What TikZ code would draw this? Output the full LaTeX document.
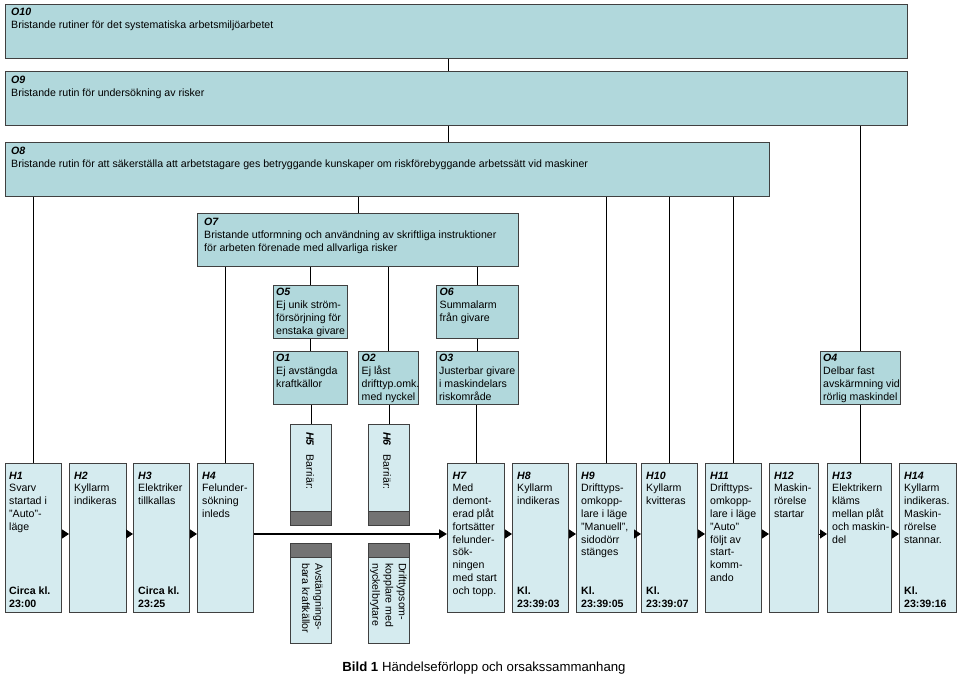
\documentclass[tikz,border=0pt]{standalone}
\usepackage{fontspec}
\setmainfont{Liberation Sans}
\usetikzlibrary{arrows.meta}
\definecolor{ofill}{HTML}{B1D8DC}
\definecolor{hfill}{HTML}{D5EBEF}
\definecolor{bdark}{HTML}{737373}
\definecolor{bord}{HTML}{404040}
\newcommand\ttl[1]{\textbf{\textit{#1}}}
\newcommand\mkbox[6]{\node[#6, anchor=north west, minimum width={(#4)-(#2)}, minimum height={(#5)-(#3)}] (#1) at (#2,#3) {};}
\begin{document}
\begin{tikzpicture}[x=1pt,y=-1pt,
 obox/.style={draw=bord, fill=ofill, line width=1.2pt, inner sep=0pt, rectangle},
 hbox/.style={draw=bord, fill=hfill, line width=1.2pt, inner sep=0pt, rectangle},
 dbox/.style={draw=bord, fill=bdark, line width=1.2pt, inner sep=0pt, rectangle},
 otxt/.style={inner sep=0pt, anchor=north west, align=left, font=\fontsize{10.6}{13}\selectfont},
 htxt/.style={inner sep=0pt, anchor=north west, align=left, font=\fontsize{10.6}{12.8}\selectfont},
 ttxt/.style={inner sep=0pt, anchor=south west, align=left, font=\fontsize{10.6}{12.8}\selectfont\bfseries},
 btxt/.style={inner sep=0pt, anchor=north west, align=left, rotate=-90, font=\fontsize{10.6}{13.3}\selectfont},
 conn/.style={draw=black, line width=0.9pt},
 sarr/.style={draw=black, line width=0.8pt, -{Triangle[length=7pt,width=9pt]}},
 larr/.style={draw=black, line width=2.2pt, -{Triangle[length=8pt,width=9pt]}},
]
\useasboundingbox (0,0) rectangle (959,677);
\fill[white] (0,0) rectangle (959,677);

% O boxes
\mkbox{o10}{5}{4}{907}{58}{obox}
\mkbox{o9}{5}{71}{907}{125}{obox}
\mkbox{o8}{5}{142}{769}{196}{obox}
\mkbox{o7}{197}{213}{518}{266}{obox}
\mkbox{o5}{273}{285}{347}{338}{obox}
\mkbox{o6}{436}{285}{518}{338}{obox}
\mkbox{o1}{273}{351}{347}{404}{obox}
\mkbox{o2}{358}{351}{418}{404}{obox}
\mkbox{o3}{436}{351}{518}{404}{obox}
\mkbox{o4}{820}{351}{900}{404}{obox}

\node[otxt] (t10) at ([shift={(6,2.5)}]o10.north west) {\strut\ttl{O10}\\Bristande rutiner för det systematiska arbetsmiljöarbetet};
\node[otxt] (t9) at ([shift={(6,3)}]o9.north west) {\strut\ttl{O9}\\Bristande rutin för undersökning av risker};
\node[otxt] (t8) at ([shift={(6,3)}]o8.north west) {\strut\ttl{O8}\\Bristande rutin för att säkerställa att arbetstagare ges betryggande kunskaper om riskförebyggande arbetssätt vid maskiner};
\node[otxt] (t7) at ([shift={(7,3.5)}]o7.north west) {\strut\ttl{O7}\\Bristande utformning och användning av skriftliga instruktioner\\för arbeten förenade med allvarliga risker};
\node[otxt] (t5) at ([shift={(3,1)}]o5.north west) {\strut\ttl{O5}\\Ej unik ström-\\försörjning för\\enstaka givare};
\node[otxt] (t6) at ([shift={(3.5,1)}]o6.north west) {\strut\ttl{O6}\\Summalarm\\från givare};
\node[otxt] (t1) at ([shift={(3,1)}]o1.north west) {\strut\ttl{O1}\\Ej avstängda\\kraftkällor};
\node[otxt] (t2) at ([shift={(3.5,1)}]o2.north west) {\strut\ttl{O2}\\Ej låst\\drifttyp.omk.\\med nyckel};
\node[otxt] (t3) at ([shift={(3,1)}]o3.north west) {\strut\ttl{O3}\\Justerbar givare\\i maskindelars\\riskområde};
\node[otxt] (t4) at ([shift={(3,1)}]o4.north west) {\strut\ttl{O4}\\Delbar fast\\avskärmning vid\\rörlig maskindel};

% H boxes
\mkbox{h1}{5}{463}{61}{612}{hbox}
\mkbox{h2}{69}{463}{126}{612}{hbox}
\mkbox{h3}{133}{463}{189}{612}{hbox}
\mkbox{h4}{197}{463}{253}{612}{hbox}
\mkbox{h7}{447}{463}{504}{612}{hbox}
\mkbox{h8}{512}{463}{568}{612}{hbox}
\mkbox{h9}{576}{463}{636}{612}{hbox}
\mkbox{h10}{641}{463}{697}{612}{hbox}
\mkbox{h11}{705}{463}{761}{612}{hbox}
\mkbox{h12}{769}{463}{818}{612}{hbox}
\mkbox{h13}{827}{463}{891}{612}{hbox}
\mkbox{h14}{899}{463}{956}{612}{hbox}

\node[htxt] (th1) at ([shift={(4,7)}]h1.north west) {\strut\ttl{H1}\\Svarv\\startad i\\”Auto”-\\läge};
\node[ttxt] (tb1) at ([shift={(4,-2)}]h1.south west) {Circa kl.\\23:00\strut};
\node[htxt] (th2) at ([shift={(5,7)}]h2.north west) {\strut\ttl{H2}\\Kyllarm\\indikeras};
\node[htxt] (th3) at ([shift={(5,7)}]h3.north west) {\strut\ttl{H3}\\Elektriker\\tillkallas};
\node[ttxt] (tb3) at ([shift={(5,-2)}]h3.south west) {Circa kl.\\23:25\strut};
\node[htxt] (th4) at ([shift={(5,7)}]h4.north west) {\strut\ttl{H4}\\Felunder-\\sökning\\inleds};
\node[htxt] (th7) at ([shift={(5.5,7)}]h7.north west) {\strut\ttl{H7}\\Med\\demont-\\erad plåt\\fortsätter\\felunder-\\sök-\\ningen\\med start\\och topp.};
\node[htxt] (th8) at ([shift={(5,7)}]h8.north west) {\strut\ttl{H8}\\Kyllarm\\indikeras};
\node[ttxt] (tb8) at ([shift={(5,-2)}]h8.south west) {Kl.\\23:39:03\strut};
\node[htxt] (th9) at ([shift={(5,7)}]h9.north west) {\strut\ttl{H9}\\Drifttyps-\\omkopp-\\lare i läge\\”Manuell”,\\sidodörr\\stänges};
\node[ttxt] (tb9) at ([shift={(5,-2)}]h9.south west) {Kl.\\23:39:05\strut};
\node[htxt] (th10) at ([shift={(5,7)}]h10.north west) {\strut\ttl{H10}\\Kyllarm\\kvitteras};
\node[ttxt] (tb10) at ([shift={(5,-2)}]h10.south west) {Kl.\\23:39:07\strut};
\node[htxt] (th11) at ([shift={(5,7)}]h11.north west) {\strut\ttl{H11}\\Drifttyps-\\omkopp-\\lare i läge\\”Auto”\\följt av\\start-\\komm-\\ando};
\node[htxt] (th12) at ([shift={(5,7)}]h12.north west) {\strut\ttl{H12}\\Maskin-\\rörelse\\startar};
\node[htxt] (th13) at ([shift={(5,7)}]h13.north west) {\strut\ttl{H13}\\Elektrikern\\kläms\\mellan plåt\\och maskin-\\del};
\node[htxt] (th14) at ([shift={(5,7)}]h14.north west) {\strut\ttl{H14}\\Kyllarm\\indikeras.\\Maskin-\\rörelse\\stannar.};
\node[ttxt] (tb14) at ([shift={(5,-2)}]h14.south west) {Kl.\\23:39:16\strut};

% barriers
\mkbox{h5u}{290}{424}{331}{525}{hbox}
\mkbox{h5ud}{290}{511}{331}{525}{dbox}
\mkbox{h5l}{290}{543}{331}{643}{hbox}
\mkbox{h5ld}{290}{543}{331}{557}{dbox}
\mkbox{h6u}{368}{424}{409}{525}{hbox}
\mkbox{h6ud}{368}{511}{409}{525}{dbox}
\mkbox{h6l}{368}{543}{409}{643}{hbox}
\mkbox{h6ld}{368}{543}{409}{557}{dbox}
\node[btxt] (tb5u) at ([shift={(26,8)}]h5u.north west) {\strut\ttl{H5}\hspace{9pt}Barriär:};
\node[btxt] (tb6u) at ([shift={(25,8)}]h6u.north west) {\strut\ttl{H6}\hspace{9pt}Barriär:};
\node[btxt] (tb5l) at ([shift={(35,20)}]h5l.north west) {\strut Avstängnings-\\bara kraftkällor};
\node[btxt] (tb6l) at ([shift={(40.5,20)}]h6l.north west) {\strut Drifttypsom-\\kopplare med\\nyckelbrytare};

% connectors
\coordinate (cx) at (448,0);
\draw[conn] (cx |- o10.south) -- (cx |- o9.north);
\draw[conn] (cx |- o9.south) -- (cx |- o8.north);
\draw[conn] (o4.north |- o9.south) -- (o4.north);
\draw[conn] (o4.south) -- (o4.south |- h13.north);
\draw[conn] (h1.north |- o8.south) -- (h1.north);
\draw[conn] (o7.north |- o8.south) -- (o7.north);
\draw[conn] (h9.north |- o8.south) -- (h9.north);
\draw[conn] (h10.north |- o8.south) -- (h10.north);
\draw[conn] (h11.north |- o8.south) -- (h11.north);
\draw[conn] (h4.north |- o7.south) -- (h4.north);
\draw[conn] (o5.north |- o7.south) -- (o5.north);
\draw[conn] (o2.north |- o7.south) -- (o2.north);
\draw[conn] (o6.north |- o7.south) -- (o6.north);
\draw[conn] (o5.south) -- (o1.north);
\draw[conn] (o6.south) -- (o3.north);
\draw[conn] (h5u.north |- o1.south) -- (h5u.north);
\draw[conn] (h6u.north |- o2.south) -- (h6u.north);
\draw[conn] (h7.north |- o3.south) -- (h7.north);

\coordinate (ay) at (0,534);
\draw[sarr] (h1.east |- ay) -- (h2.west |- ay);
\draw[sarr] (h2.east |- ay) -- (h3.west |- ay);
\draw[sarr] (h3.east |- ay) -- (h4.west |- ay);
\draw[larr] (h4.east |- ay) -- (h7.west |- ay);
\draw[sarr] (h7.east |- ay) -- (h8.west |- ay);
\draw[sarr] (h8.east |- ay) -- (h9.west |- ay);
\draw[sarr] (h9.east |- ay) -- (h10.west |- ay);
\draw[sarr] (h10.east |- ay) -- (h11.west |- ay);
\draw[sarr] (h11.east |- ay) -- (h12.west |- ay);
\draw[sarr] (h12.east |- ay) -- (h13.west |- ay);
\draw[sarr] (h13.east |- ay) -- (h14.west |- ay);

\node[inner sep=0pt, font=\fontsize{13.2}{15}\selectfont] (cap) at (484,668) {\textbf{Bild 1} Händelseförlopp och orsakssammanhang};
\end{tikzpicture}
\end{document}
